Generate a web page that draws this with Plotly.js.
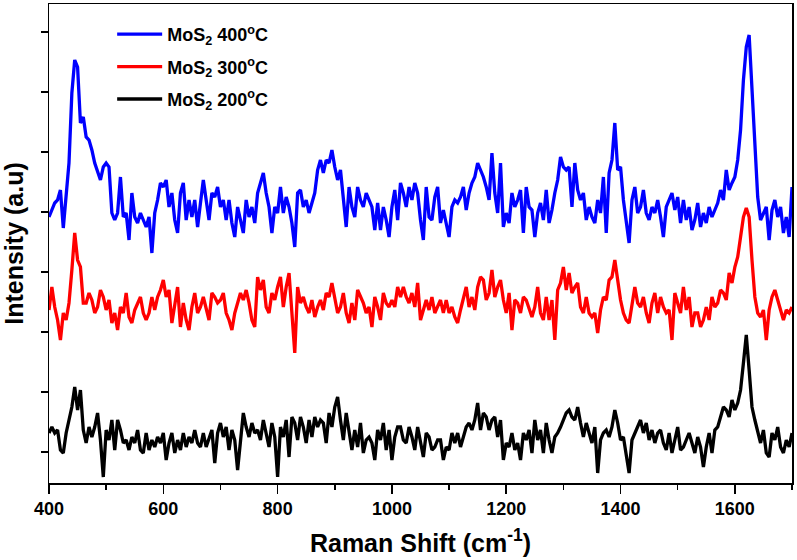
<!DOCTYPE html>
<html>
<head>
<meta charset="utf-8">
<script src="https://cdn.plot.ly/plotly-3.0.1.min.js"></script>
<style>
  html, body { margin: 0; padding: 0; background: #fff; }
  #plot { width: 797px; height: 560px; }
</style>
</head>
<body>
<div id="plot"></div>
<script>
// Raman spectra, sampled every 5 cm-1 from 400 to 1700 (arbitrary, offset intensity)
const shiftStart = 400;
const shiftStep = 5;

const mos2_400 = [
  266, 273, 280, 283, 293, 255, 290, 320, 390, 423,
  416, 360, 366, 346, 343, 333, 320, 310, 303, 316,
  320, 316, 270, 263, 270, 306, 266, 270, 243, 290,
  266, 260, 270, 263, 256, 266, 230, 270, 283, 300,
  296, 303, 276, 290, 263, 250, 290, 300, 263, 283,
  266, 283, 256, 280, 303, 283, 263, 290, 286, 296,
  276, 283, 263, 283, 260, 246, 276, 263, 250, 283,
  266, 276, 260, 290, 300, 310, 290, 276, 250, 276,
  270, 296, 270, 286, 276, 260, 236, 290, 293, 276,
  283, 270, 280, 290, 313, 323, 310, 323, 320, 333,
  316, 303, 313, 283, 256, 296, 276, 266, 296, 283,
  276, 290, 283, 276, 253, 280, 253, 276, 263, 246,
  276, 293, 263, 300, 290, 276, 296, 283, 300, 290,
  263, 243, 296, 266, 263, 286, 296, 260, 273, 260,
  246, 276, 283, 280, 286, 296, 273, 290, 300, 306,
  320, 313, 306, 296, 283, 330, 290, 270, 320, 256,
  270, 260, 290, 276, 283, 293, 250, 296, 276, 273,
  246, 270, 280, 263, 293, 260, 273, 290, 303, 326,
  316, 313, 316, 276, 320, 293, 283, 290, 263, 276,
  266, 260, 283, 270, 306, 250, 310, 323, 360, 313,
  316, 283, 263, 240, 283, 296, 270, 276, 293, 270,
  263, 276, 270, 283, 266, 246, 276, 283, 290, 273,
  286, 260, 283, 263, 276, 253, 263, 280, 256, 270,
  260, 276, 266, 273, 280, 293, 283, 313, 293, 300,
  306, 323, 353, 403, 436, 448, 396, 330, 286, 263,
  270, 276, 243, 273, 283, 266, 276, 250, 266, 246,
  296
];

const mos2_300 = [
  173, 196, 176, 163, 143, 170, 163, 180, 213, 250,
  223, 216, 180, 180, 190, 183, 170, 176, 193, 186,
  173, 183, 160, 170, 153, 176, 170, 190, 166, 160,
  173, 180, 186, 170, 163, 170, 186, 173, 186, 193,
  203, 186, 193, 160, 176, 196, 156, 180, 163, 153,
  176, 190, 170, 176, 186, 173, 163, 190, 186, 180,
  183, 190, 170, 163, 153, 170, 180, 190, 183, 193,
  180, 163, 156, 206, 193, 203, 176, 170, 190, 183,
  196, 206, 176, 196, 210, 173, 130, 196, 180, 186,
  176, 170, 183, 166, 176, 183, 173, 190, 186, 200,
  183, 170, 176, 190, 170, 160, 180, 163, 193, 186,
  180, 170, 176, 156, 186, 176, 163, 190, 180, 176,
  183, 176, 196, 186, 196, 186, 180, 190, 176, 200,
  163, 173, 183, 173, 186, 170, 176, 183, 170, 183,
  170, 176, 166, 160, 173, 186, 196, 176, 186, 173,
  196, 206, 203, 183, 190, 213, 186, 196, 203, 183,
  170, 190, 153, 183, 180, 170, 186, 183, 173, 166,
  176, 196, 170, 163, 186, 163, 183, 143, 193, 200,
  216, 193, 210, 190, 196, 200, 176, 170, 186, 170,
  166, 170, 150, 173, 186, 183, 203, 206, 223, 200,
  183, 170, 163, 160, 176, 196, 180, 176, 186, 170,
  160, 180, 190, 170, 186, 176, 170, 173, 143, 190,
  180, 170, 196, 173, 186, 156, 170, 170, 156, 163,
  176, 163, 186, 176, 180, 193, 190, 183, 210, 200,
  216, 226, 246, 266, 275, 266, 223, 186, 170, 166,
  173, 143, 173, 186, 193, 183, 176, 163, 173, 170,
  176
];

const mos2_200 = [
  50, 56, 50, 53, 33, 30, 50, 63, 76, 96,
  73, 93, 53, 40, 56, 46, 56, 70, 43, 6,
  53, 43, 63, 33, 63, 53, 40, 43, 33, 46,
  40, 53, 33, 30, 50, 33, 43, 36, 46, 40,
  50, 23, 40, 50, 30, 43, 33, 50, 36, 46,
  40, 53, 40, 36, 50, 36, 46, 53, 20, 50,
  60, 46, 56, 33, 53, 43, 13, 46, 70, 56,
  46, 60, 50, 53, 43, 63, 50, 36, 60, 46,
  6, 56, 46, 63, 26, 66, 60, 43, 66, 56,
  40, 63, 46, 66, 56, 63, 60, 40, 70, 56,
  76, 86, 63, 43, 70, 50, 33, 53, 36, 60,
  30, 43, 46, 40, 23, 53, 43, 60, 33, 53,
  23, 46, 56, 56, 43, 40, 56, 46, 33, 56,
  40, 26, 50, 46, 33, 36, 43, 43, 23, 36,
  33, 50, 40, 50, 36, 46, 56, 60, 53, 63,
  80, 53, 70, 66, 53, 63, 66, 46, 63, 23,
  40, 36, 50, 33, 40, 23, 50, 43, 53, 30,
  63, 43, 53, 30, 60, 43, 30, 46, 50, 56,
  63, 70, 73, 66, 63, 76, 60, 46, 60, 50,
  40, 56, 10, 43, 50, 53, 46, 56, 73, 60,
  43, 46, 30, 10, 43, 50, 56, 63, 50, 60,
  43, 53, 40, 50, 53, 40, 33, 50, 30, 43,
  56, 33, 36, 43, 50, 40, 30, 46, 36, 16,
  36, 50, 30, 53, 56, 66, 76, 73, 66, 83,
  73, 80, 93, 120, 148, 113, 76, 63, 50, 40,
  53, 30, 26, 50, 43, 56, 36, 30, 43, 36,
  50
];

const seriesNames = [
  "MoS<sub>2</sub> 400<sup>o</sup>C",
  "MoS<sub>2</sub> 300<sup>o</sup>C",
  "MoS<sub>2</sub> 200<sup>o</sup>C"
];
const seriesColors = ["#0000ff", "#ff0000", "#000000"];
const seriesData = [mos2_400, mos2_300, mos2_200];

const font = { family: "Liberation Sans, Arial, sans-serif", color: "#000", weight: "bold" };

const traces = seriesData.map(function (vals, i) {
  return {
    y: vals,
    x0: shiftStart,
    dx: shiftStep,
    type: "scatter",
    mode: "lines",
    name: seriesNames[i],
    legendgroup: "g" + i,
    line: { color: seriesColors[i], width: 3.3 }
  };
});

const layout = {
  width: 797,
  height: 560,
  margin: { l: 49, r: 5, t: 4, b: 77 },
  paper_bgcolor: "#fff",
  plot_bgcolor: "#fff",
  font: font,
  showlegend: true,
  legend: {
    x: 0.085, y: 0.975, xanchor: "left", yanchor: "top",
    bgcolor: "rgba(0,0,0,0)",
    font: Object.assign({}, font, { size: 18 }),
    tracegroupgap: 6,
    itemwidth: 45
  },
  xaxis: {
    range: [400, 1700],
    tick0: 400, dtick: 200,
    ticks: "outside", ticklen: 9, tickwidth: 1.5, tickcolor: "#000",
    minor: { dtick: 100, ticks: "outside", ticklen: 5, tickwidth: 1.5, tickcolor: "#000" },
    showline: true, linecolor: "#000", linewidth: 1.5, mirror: true,
    showgrid: false, zeroline: false,
    tickfont: Object.assign({}, font, { size: 18 }),
    title: { text: "Raman Shift (cm<sup>-1</sup>)", font: Object.assign({}, font, { size: 25 }), standoff: 16 }
  },
  yaxis: {
    range: [0, 479],
    tick0: 31, dtick: 60,
    ticks: "outside", ticklen: 7, tickwidth: 1.5, tickcolor: "#000",
    showticklabels: false,
    showline: true, linecolor: "#000", linewidth: 1.5, mirror: true,
    showgrid: false, zeroline: false,
    title: { text: "Intensity (a.u)", font: Object.assign({}, font, { size: 25 }), standoff: 14 }
  }
};

Plotly.newPlot("plot", traces, layout, { displayModeBar: false, staticPlot: true });
</script>
</body>
</html>
